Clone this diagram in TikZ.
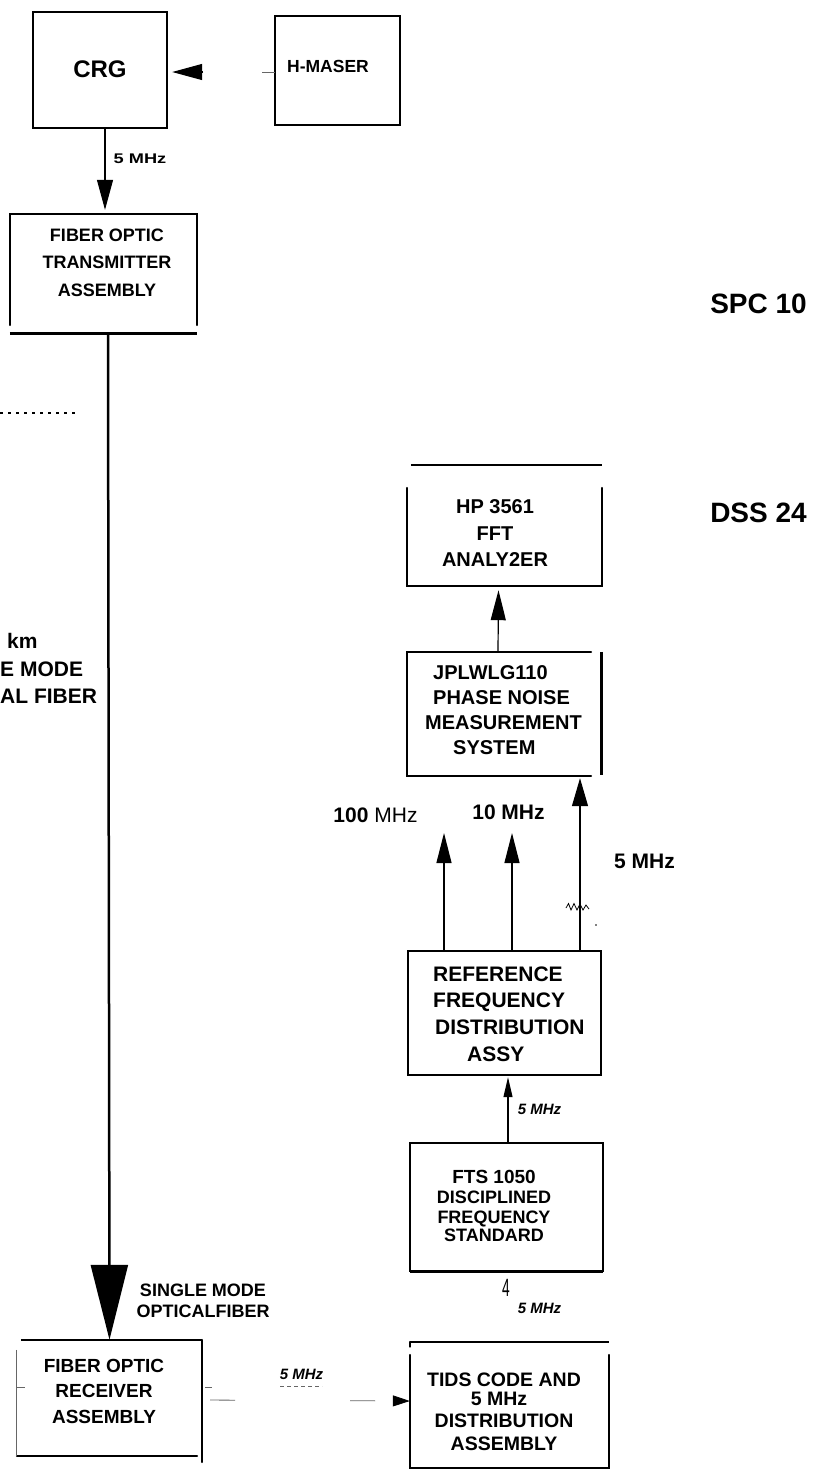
\documentclass[tikz,border=0pt]{standalone}
\usepackage{fontspec}
\setmainfont{Liberation Sans}
\usepackage{graphicx}
\usetikzlibrary{arrows.meta}
\newcommand\setfs[2]{\fontsize{#1pt}{#2pt}\selectfont}
\begin{document}
\begin{tikzpicture}[x=1pt,y=-1pt,
  box/.style={rectangle,inner sep=0pt,draw=none},
  frame/.style={line width=1.8pt,line cap=round},
  heavy/.style={line width=2.6pt},
  txt/.style={inner sep=0pt,align=center},
  uparrow/.style={line width=1.2pt,-{Triangle[length=30pt,width=15pt]}},
  faint/.style={black!60,line width=0.8pt}]
\fill[white] (0,0) rectangle (819,1475);
\useasboundingbox (0,0) rectangle (819,1475);

% ---------- boxes (shapes only) ----------
\node[box,minimum width=134pt,minimum height=116pt] (crg) at (100,70) {};
\node[box,minimum width=125pt,minimum height=109pt] (hm) at (337.5,70.5) {};
\node[box,minimum width=187pt,minimum height=119pt] (tx) at (103.5,273.5) {};
\node[box,minimum width=195pt,minimum height=121pt] (hp) at (504.5,525.5) {};
\node[box,minimum width=194pt,minimum height=124pt] (jpl) at (504,714) {};
\node[box,minimum width=193pt,minimum height=124pt] (rfd) at (504.5,1013) {};
\node[box,minimum width=193pt,minimum height=128pt] (fts) at (506.5,1207) {};
\node[box,minimum width=199pt,minimum height=126pt] (tids) at (509.5,1405) {};
\node[box,minimum width=185pt,minimum height=116pt] (rx) at (109.5,1398) {};

% frames
\draw[frame] (crg.north west) rectangle (crg.south east);
\draw[frame,line width=1.5pt] (hm.north west) rectangle (hm.south east);
\draw[frame] ([yshift=8pt]tx.south west) -- (tx.north west) -- (tx.north east) -- ([yshift=8pt]tx.south east);
\draw[heavy] (tx.south west) -- (tx.south east);
\draw[heavy] ([xshift=4pt]hp.north west) -- (hp.north east);
\draw[frame] ([yshift=-23pt]hp.north west) -- (hp.south west) -- (hp.south east) -- ([yshift=-23pt]hp.north east);
\draw[frame] ([xshift=-10pt]jpl.north east) -- (jpl.north west) -- (jpl.south west) -- ([xshift=-10pt]jpl.south east);
\draw[heavy] (jpl.north east) -- ([yshift=1pt]jpl.south east);
\draw[frame] (rfd.north west) rectangle (rfd.south east);
\draw[frame] (fts.north west) rectangle (fts.south east);
\draw[heavy] (fts.south west) -- (fts.south east);
\draw[heavy] (tids.north west) -- (tids.north east);
\draw[frame] ([yshift=-5pt]tids.north west) -- (tids.north west);
\draw[frame] ([yshift=-13pt]tids.north west) -- (tids.south west) -- (tids.south east) -- ([yshift=-13pt]tids.north east);
\draw[heavy] ([xshift=4pt]rx.north west) -- (rx.north east);
\draw[frame] (rx.north east) -- ([yshift=-6pt]rx.south east);
\draw[frame] (rx.south west) -- ([xshift=-5pt]rx.south east);
\draw[faint] ([yshift=-10pt]rx.north west) -- (rx.south west);

% ---------- box texts ----------
\node[txt,font=\bfseries\setfs{24}{28}] (crgt) at (100,69) {CRG};
\node[txt,font=\bfseries\setfs{17.5}{20}] (hmt) at (328,66) {H-MASER};
\node[txt,font=\bfseries\setfs{18}{27.5}] (txt1) at (107,262.5) {FIBER OPTIC\\TRANSMITTER\\ASSEMBLY};
\node[txt,font=\bfseries\setfs{20}{26.5}] (hpt) at (495,533.5) {HP 3561\\FFT\\ANALY2ER};
\node[txt,align=left,anchor=west,font=\bfseries\setfs{20}{25}] (jplt) at (425,710.5)
  {\hspace*{8pt}JPLWLG110\\\hspace*{8pt}PHASE NOISE\\MEASUREMENT\\\hspace*{28pt}SYSTEM};
\node[txt,align=left,anchor=west,font=\bfseries\setfs{21}{26.7}] (rfdt) at (433,1014)
  {REFERENCE\\FREQUENCY\\\hspace*{2pt}DISTRIBUTION\\\hspace*{34pt}ASSY};
\node[txt,font=\bfseries\setfs{18}{20}] (ftst) at (494,1206)
  {{\setfs{19}{20}FTS 1050}\\DISCIPLINED\\FREQUENCY\\[-2pt]STANDARD};
\node[txt,font=\bfseries\setfs{19.5}{22.5}] (tidst) at (504,1412)
  {TIDS CODE AND\\[-4pt]\hspace*{-10pt}5 MHz\\DISTRIBUTION\\ASSEMBLY};
\node[txt,font=\bfseries\setfs{19}{25.5}] (rxt) at (104,1391) {FIBER OPTIC\\RECEIVER\\ASSEMBLY};

% ---------- side labels ----------
\node[txt,font=\bfseries\setfs{28}{30}] (spc) at (758.5,303.5) {SPC 10};
\node[txt,font=\bfseries\setfs{28}{30}] (dss) at (758.5,513) {DSS 24};
\node[txt,align=left,anchor=west,font=\bfseries\setfs{21}{27.5}] (kmt) at (0,668.5)
  {\hspace*{7pt}km\\E MODE\\AL FIBER};
\node[txt,font=\bfseries\setfs{18}{21}] (smt) at (203,1301) {SINGLE MODE\\OPTICALFIBER};

% ---------- connectors ----------
% H-maser to CRG
\coordinate (hmstub) at (203,72);
\draw[line width=1.2pt,-{Triangle[length=30pt,width=16pt]}] (hmstub) -- ([xshift=5pt,yshift=-2pt]crg.east);
\coordinate (hmdash) at (262,72);
\draw[faint] (hmdash) -- ([yshift=-1.5pt]hm.west);
% CRG to transmitter
\draw[line width=1.2pt,-{Triangle[length=30pt,width=16pt]}] ([xshift=5pt]crg.south) -- ([xshift=1.5pt,yshift=4pt]tx.north);
\node[txt,font=\bfseries\setfs{14}{16}] (l5a) at (140,159) {\scalebox{1.3}[1]{5 MHz}};
% fiber
\draw[line width=2.5pt,-{Triangle[length=75pt,width=37pt]}] ([xshift=4.5pt]tx.south) -- (rx.north);
\coordinate (dotl) at (0,413);
\coordinate (dotr) at (77,413);
\draw[line width=1.2pt,dash pattern=on 3pt off 5pt] (dotl) -- (dotr);

% right column
\draw[uparrow] ([xshift=-6pt]jpl.north) -- ([xshift=-6pt,yshift=-4pt]hp.south);
\draw[line width=1.2pt,-{Triangle[length=28pt,width=16pt]}] ([xshift=75.5pt]rfd.north) -- ([xshift=76pt,yshift=-2pt]jpl.south);
\coordinate (c100) at (444,833);
\coordinate (c10) at (512,833);
\draw[uparrow] ([xshift=-60.5pt]rfd.north) -- (c100);
\draw[uparrow] ([xshift=7.5pt]rfd.north) -- (c10);
\node[txt,font=\setfs{21}{24}] (l100) at (375.5,815.5) {\textbf{100} MHz};
\node[txt,font=\bfseries\setfs{21}{24}] (l10) at (508.5,812) {10 MHz};
\node[txt,font=\bfseries\setfs{21}{24}] (l5b) at (644.5,861.5) {5 MHz};
\draw[line width=0.8pt] (566,908) -- (568.5,903.5) -- (571,910) -- (574,903.5) -- (577,910) -- (580,904) -- (583,910) -- (586,905) -- (589,909);
\fill (596,925) circle (0.9pt);
\draw[line width=1.1pt,-{Triangle[length=20pt,width=9pt]}] ([xshift=1.5pt]fts.north) -- ([xshift=3.5pt,yshift=-2pt]rfd.south);
\node[txt,font=\bfseries\itshape\setfs{15}{17}] (l5c) at (539.5,1109) {5 MHz};
\node[txt,font=\setfs{25}{25}] (four) at (506,1288) {\scalebox{0.55}[1]{4}};
\node[txt,font=\bfseries\itshape\setfs{15}{17}] (l5d) at (539.5,1308) {5 MHz};

% receiver to TIDS
\draw[faint,dash pattern=on 0pt off 8pt on 25pt off 115pt on 25pt off 200pt,
      -{Triangle[length=17pt,width=11pt,black]}] ([yshift=-2pt]rx.east) -- ([yshift=4pt]tids.west);
\node[txt,font=\bfseries\itshape\setfs{15}{17}] (l5e) at (301.5,1374) {5 MHz};
\coordinate (u1) at (280,1386);
\coordinate (u2) at (322,1386);
\draw[faint,dash pattern=on 4pt off 3pt] (u1) -- (u2);
\coordinate (lt) at (17,1387);
\draw[faint] (lt) -- ++(8,0);
\coordinate (rt) at (205,1387);
\draw[faint] (rt) -- ++(7,0);
\end{tikzpicture}
\end{document}
